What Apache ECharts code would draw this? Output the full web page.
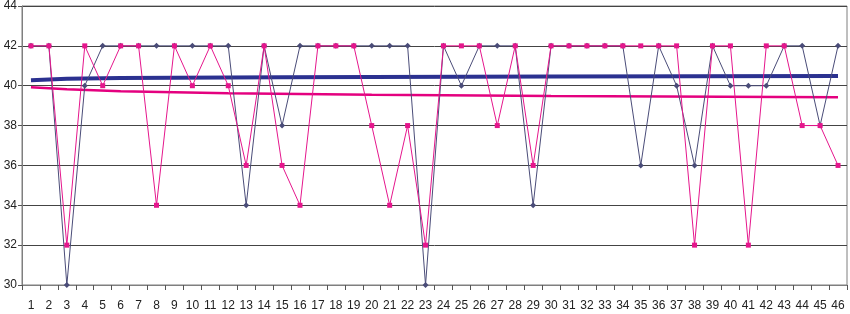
<!DOCTYPE html>
<html>
<head>
<meta charset="utf-8">
<script src="https://cdn.jsdelivr.net/npm/echarts@6/dist/echarts.min.js"></script>
<style>
  html, body { margin: 0; padding: 0; background: #fff; }
  #chart { width: 850px; height: 314px; }
</style>
</head>
<body>
<div id="chart"></div>
<script>
// categories 1..46
const categories = ["1","2","3","4","5","6","7","8","9","10","11","12","13","14","15","16","17","18","19","20","21","22","23","24","25","26","27","28","29","30","31","32","33","34","35","36","37","38","39","40","41","42","43","44","45","46"];

// dark series (diamonds)
const seriesDark = [42,42,30,40,42,42,42,42,42,42,42,42,34,42,38,42,42,42,42,42,42,42,30,42,40,42,42,42,34,42,42,42,42,42,36,42,40,36,42,40,40,40,42,42,38,42];
// pink series (squares)
const seriesPink = [42,42,32,42,40,42,42,34,42,40,42,40,36,42,36,34,42,42,42,38,34,38,32,42,42,42,38,42,36,42,42,42,42,42,42,42,42,32,42,42,32,42,42,38,38,36];

// trend lines at a few categories
const trendDarkAt = [["1",40.28],["3",40.35],["6",40.39],["15",40.43],["30",40.46],["46",40.49]];
const trendPinkAt = [["1",39.92],["3",39.82],["6",39.72],["12",39.62],["20",39.55],["30",39.48],["46",39.42]];

const yTicks = { min: 30, max: 44, interval: 2 };

const font = "'Liberation Sans Narrow', 'Liberation Sans', Arial, sans-serif";

const chart = echarts.init(document.getElementById("chart"), null, { renderer: "canvas" });
chart.setOption({
  animation: false,
  grid: {
    left: 22,
    right: 3,
    top: 4,
    bottom: 29,
    show: true,
    borderColor: "#7f7f7f",
    borderWidth: 1
  },
  xAxis: {
    type: "category",
    data: categories,
    boundaryGap: true,
    axisLine: { lineStyle: { color: "#7f7f7f", width: 1 } },
    axisTick: { show: true, length: 5, lineStyle: { color: "#555" } },
    axisLabel: { color: "#222", fontSize: 12, fontFamily: font, margin: 15, interval: 0 }
  },
  yAxis: {
    type: "value",
    min: yTicks.min,
    max: yTicks.max,
    interval: yTicks.interval,
    axisLine: { show: true, lineStyle: { color: "#7f7f7f" } },
    axisTick: { show: true, length: 4, lineStyle: { color: "#555" } },
    axisLabel: { color: "#222", fontSize: 12, fontFamily: font, margin: 5 },
    splitLine: { show: true, lineStyle: { color: "#444", width: 1 } }
  },
  series: [
    {
      type: "line",
      data: trendDarkAt,
      symbol: "none",
      z: 1,
      lineStyle: { color: "#2b3190", width: 4 }
    },
    {
      type: "line",
      data: trendPinkAt,
      symbol: "none",
      z: 1,
      lineStyle: { color: "#e4007f", width: 2.5 }
    },
    {
      type: "line",
      data: seriesDark,
      symbol: "diamond",
      symbolSize: 6,
      z: 3,
      itemStyle: { color: "#4a4c78" },
      lineStyle: { color: "#4a4c78", width: 1 }
    },
    {
      type: "line",
      data: seriesPink,
      symbol: "rect",
      symbolSize: 5,
      z: 4,
      itemStyle: { color: "#e5168c" },
      lineStyle: { color: "#e5168c", width: 1 }
    }
  ]
});
</script>
</body>
</html>
